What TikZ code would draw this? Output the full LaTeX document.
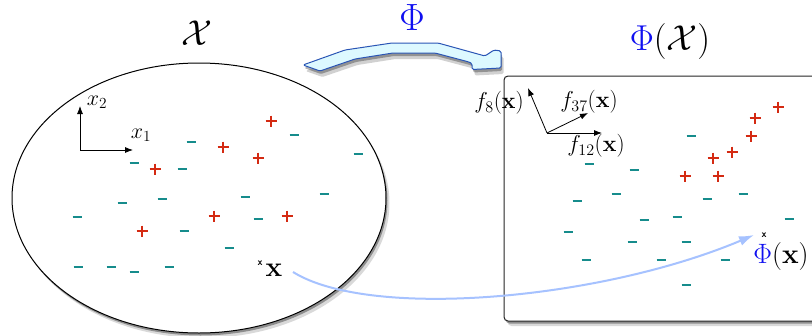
\RequirePackage{fix-cm}
\documentclass[tikz,border=0pt]{standalone}
\usetikzlibrary{shadows,arrows.meta,shapes.geometric}
\definecolor{plusred}{HTML}{D42A12}
\definecolor{minteal}{HTML}{168C8C}
\definecolor{curveblue}{HTML}{A6C2FF}
\definecolor{arrfill}{HTML}{DDF9FF}
\definecolor{arrline}{HTML}{2A55B5}
\definecolor{phiblue}{HTML}{1010F0}
\begin{document}
\begin{tikzpicture}[x=1pt,y=-1pt,
  softshadow/.style={drop shadow={shadow xshift=3.5pt,shadow yshift=-5pt,opacity=0.15,fill=black},
                     drop shadow={shadow xshift=1.5pt,shadow yshift=-2.5pt,opacity=0.35,fill=black}},
  plusmark/.style={plusred,line width=2pt},
  minusmark/.style={minteal,line width=2pt},
  axisarrow/.style={black,line width=0.8pt,-{Latex[length=8pt,width=6pt]}},
  biglabel/.style={inner sep=0pt,font=\fontsize{36}{40}\selectfont},
  axislabel/.style={inner sep=0pt,font=\fontsize{22}{24}\selectfont},
  flabel/.style={inner sep=0pt,font=\fontsize{23}{26}\selectfont},
  tinyx/.style={inner sep=0pt,font=\fontsize{10}{11}\selectfont\sffamily\bfseries},
  phiarrow/.style={draw=arrline,fill=arrfill,line width=1pt,rounded corners=1.5pt,
                   drop shadow={shadow xshift=2.5pt,shadow yshift=-6pt,opacity=0.18,fill=black},
                   drop shadow={shadow xshift=1pt,shadow yshift=-3pt,opacity=0.3,fill=black}}
]
\useasboundingbox (0,0) rectangle (812,335);
\begin{scope}
\clip (0,0) rectangle (812,335);

% input space
\node[ellipse,draw,line width=1pt,fill=white,softshadow,minimum width=374pt,minimum height=270pt,inner sep=0pt] (space) at (199,198) {};
% feature space (runs past the right edge)
\coordinate (fsa) at (504,76);
\coordinate (fsb) at (900,321);
\draw[draw=black!85,line width=1pt,fill=white,rounded corners=4pt,softshadow] (fsa) rectangle (fsb);

% Phi block arrow
\draw[phiarrow] (303,65) -- (345,50) -- (392,43) -- (438,43) -- (485,56) -- (494,50) -- (501,51) -- (501,68) -- (472,69.5) -- (472,63.5) -- (469,62) -- (435,53) -- (393,53) -- (355,59) -- (320,71) -- cycle;

% titles
\node[biglabel] (xtitle) at (197,33) {$\mathcal{X}$};
\node[biglabel,font=\fontsize{38}{40}\selectfont] (phititle) at (412,18) {$\textcolor{phiblue}{\Phi}$};
\node[biglabel] (phixtitle) at (670,41) {$\textcolor{phiblue}{\Phi}(\mathcal{X})$};

% left axes
\coordinate (o1) at (80,150);
\coordinate (e1) at (133,150);
\coordinate (e2) at (80,106);
\draw[axisarrow] (o1) -- (e1);
\draw[axisarrow] (o1) -- (e2);
\node[axislabel] (x2lab) at (97,102) {$x_2$};
\node[axislabel] (x1lab) at (141,135) {$x_1$};

% right axes
\coordinate (o2) at (547,133);
\coordinate (f8) at (528,88);
\coordinate (f37) at (588,113);
\coordinate (f12) at (602,133);
\draw[axisarrow] (o2) -- (f8);
\draw[axisarrow] (o2) -- (f37);
\draw[axisarrow] (o2) -- (f12);
\node[flabel] (f8lab) at (499,103) {$f_8(\mathbf{x})$};
\node[flabel] (f37lab) at (589,102) {$f_{37}(\mathbf{x})$};
\node[flabel] (f12lab) at (596,146) {$f_{12}(\mathbf{x})$};

% left data
\foreach \px/\py in {271/121,223/147,258/158,155/169,214/216,287/216,142/231}
  \draw[plusmark] (\px-5.5,\py) -- (\px+5.5,\py) (\px,\py-5.5) -- (\px,\py+5.5);
\foreach \px/\py in {191/142,294/135,358/154,134/163,182/169,122/203,162/199,245/197,324/194,77/217,258/219,184/231,229/248,78/267,111/267,134/272,169/267}
  \draw[minusmark] (\px-4.5,\py) -- (\px+4.5,\py);

% right data
\foreach \px/\py in {778/107,755/118,751/136,732/152,713/158,685/176,718/176}
  \draw[plusmark] (\px-5.5,\py) -- (\px+5.5,\py) (\px,\py-5.5) -- (\px,\py+5.5);
\foreach \px/\py in {691/136,589/164,634/170,616/194,577/201,707/199,743/194,644/220,677/217,789/219,568/232,632/242,686/242,586/260,661/260,725/260,686/285}
  \draw[minusmark] (\px-4.5,\py) -- (\px+4.5,\py);

% the point x and its image
\node[tinyx] (xmark) at (260,263) {x};
\node[inner sep=0pt,font=\fontsize{28}{30}\selectfont] (xlab) at (274,270) {$\mathbf{x}$};
\node[tinyx] (phixmark) at (764,235) {x};
\node[inner sep=0pt,font=\fontsize{28}{30}\selectfont] (phixlab) at (781,256) {$\textcolor{phiblue}{\Phi}(\mathbf{x})$};

\coordinate (cs) at (293,272);
\coordinate (ce) at (754,235);
\draw[curveblue,line width=2pt,-{Latex[length=15pt,width=10pt]}] (cs) .. controls (370,320) and (600,300) .. (ce);
\end{scope}
\end{tikzpicture}
\end{document}
